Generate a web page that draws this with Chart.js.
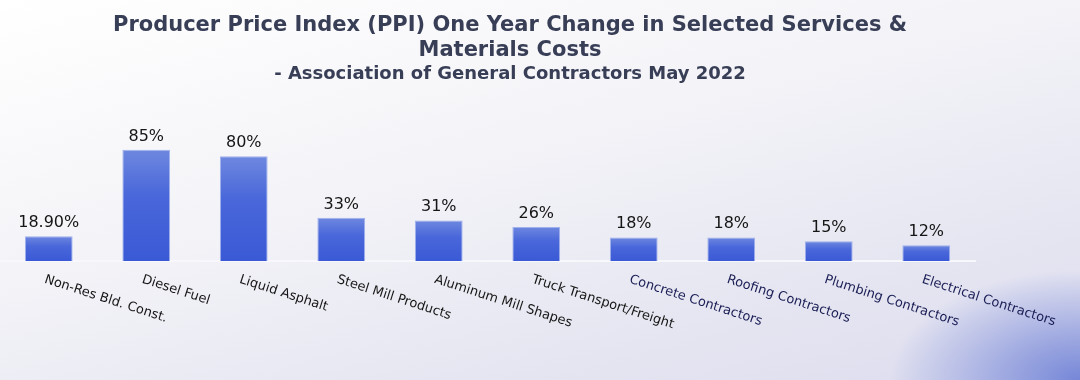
<!DOCTYPE html>
<html>
<head>
<meta charset="utf-8">
<script src="https://cdn.jsdelivr.net/npm/chart.js@4"></script>
<style>
    html, body { margin: 0; padding: 0; }
    body {
        width: 1080px;
        height: 380px;
        overflow: hidden;
        background:
            radial-gradient(ellipse 190px 110px at 100% 100%, rgba(112, 130, 214, 0.95), rgba(112, 130, 214, 0) 100%),
            linear-gradient(165deg, #ffffff 0%, #f4f4f8 40%, #e6e6f2 75%, #dcdcee 100%);
    }
    #wrap { position: relative; width: 1080px; height: 380px; }
</style>
</head>
<body>
<div id="wrap"><canvas id="ppiChart" width="1080" height="380"></canvas></div>
<script>
// chart data
const categories = [
    'Non-Res Bld. Const.', 'Diesel Fuel', 'Liquid Asphalt', 'Steel Mill Products',
    'Aluminum Mill Shapes', 'Truck Transport/Freight', 'Concrete Contractors',
    'Roofing Contractors', 'Plumbing Contractors', 'Electrical Contractors'
];
const changePct = [18.9, 85, 80, 33, 31, 26, 18, 18, 15, 12];
const valueLabels = ['18.90%', '85%', '80%', '33%', '31%', '26%', '18%', '18%', '15%', '12%'];
const titleLines = [
    'Producer Price Index (PPI) One Year Change in Selected Services &',
    'Materials Costs'
];
const subtitleLine = '- Association of General Contractors May 2022';

const FONT = "'DejaVu Sans', Verdana, sans-serif";

// per-bar vertical gradient (lighter at the top)
const barFill = (context) => {
    const chart = context.chart;
    const { ctx, chartArea, scales } = chart;
    if (!chartArea || !scales.y) return '#4a68da';
    const top = scales.y.getPixelForValue(context.raw);
    const base = scales.y.getPixelForValue(0);
    if (!isFinite(top) || !isFinite(base) || base - top < 1) return '#4a68da';
    const g = ctx.createLinearGradient(0, top, 0, base);
    g.addColorStop(0, '#6e88df');
    g.addColorStop(0.4, '#4a68da');
    g.addColorStop(1, '#3a59d5');
    return g;
};

// title, value labels and slanted category labels
const textPlugin = {
    id: 'ppiText',
    afterDraw(chart) {
        const ctx = chart.ctx;
        const x = chart.scales.x;
        const y = chart.scales.y;
        ctx.save();

        // title
        ctx.fillStyle = '#373e56';
        ctx.textAlign = 'center';
        ctx.textBaseline = 'middle';
        ctx.font = 'bold 21px ' + FONT;
        ctx.fillText(titleLines[0], 510, 26);
        ctx.fillText(titleLines[1], 510, 51);
        ctx.font = 'bold 18px ' + FONT;
        ctx.fillText(subtitleLine, 510, 74);

        // value labels above bars
        ctx.fillStyle = '#151515';
        ctx.font = '16px ' + FONT;
        ctx.textBaseline = 'alphabetic';
        changePct.forEach((v, i) => {
            ctx.fillText(valueLabels[i], x.getPixelForValue(i), y.getPixelForValue(v) - 9);
        });

        // category labels, slanted down to the right
        ctx.font = '13px ' + FONT;
        ctx.textAlign = 'left';
        ctx.textBaseline = 'top';
        categories.forEach((c, i) => {
            ctx.save();
            ctx.translate(x.getPixelForValue(i) - 2, y.bottom + 12);
            ctx.rotate(18 * Math.PI / 180);
            ctx.fillStyle = i < 6 ? '#161616' : '#1b1e55';
            ctx.fillText(c, 0, 0);
            ctx.restore();
        });
        ctx.restore();
    }
};

new Chart(document.getElementById('ppiChart'), {
    type: 'bar',
    data: {
        labels: categories,
        datasets: [{
            data: changePct,
            backgroundColor: barFill,
            borderColor: 'rgba(140, 160, 232, 0.8)',
            borderWidth: 1,
            borderSkipped: 'bottom',
            categoryPercentage: 1,
            barPercentage: 0.49
        }]
    },
    options: {
        responsive: false,
        animation: false,
        layout: { padding: { left: -3, right: 105, top: 130, bottom: 111 } },
        plugins: {
            legend: { display: false },
            title: { display: false },
            tooltip: { enabled: false }
        },
        scales: {
            x: {
                grid: { display: false },
                ticks: { display: false },
                border: { display: true, color: '#f8f8fc', width: 2 }
            },
            y: {
                display: false,
                min: 0,
                max: 100
            }
        }
    },
    plugins: [textPlugin]
});
</script>
</body>
</html>
